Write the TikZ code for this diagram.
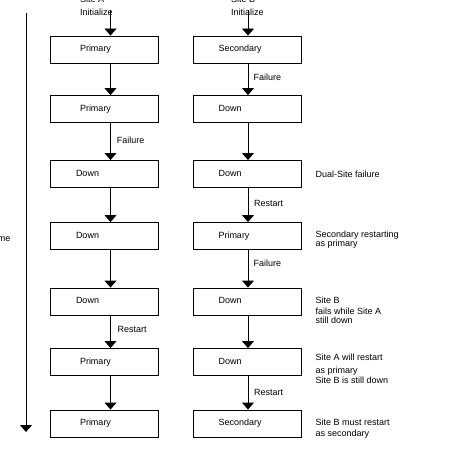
\documentclass[tikz,border=0pt]{standalone}
\usepackage{fontspec}
\setmainfont{Liberation Sans}
\usetikzlibrary{arrows.meta}
\begin{document}
\begin{tikzpicture}[x=1pt,y=-1pt,
  every node/.style={font=\fontsize{9pt}{11pt}\selectfont, inner sep=0pt},
  txt/.style={anchor=base west},
  boxbase/.style={draw, line width=0.9pt, minimum width=108pt, minimum height=27pt,
     text height=6.5pt, text depth=2pt, align=left},
  boxP/.style={boxbase, inner xsep=30pt, text width=48pt},
  boxD/.style={boxbase, inner xsep=26pt, text width=56pt},
  boxR/.style={boxbase, inner xsep=25pt, text width=58pt},
  arr/.style={line width=0.9pt, -{Triangle[width=12pt,length=7pt]}}]
\useasboundingbox (0,0) rectangle (459,476);

% column arrow axes
\coordinate (axL) at (110.5,0);
\coordinate (axR) at (248,0);

% top labels
\node[txt] (sa) at (80,3) {Site A};
\node[txt] (ia) at (80,15.5) {Initialize};
\node[txt] (sb) at (231,3) {Site B};
\node[txt] (ib) at (231,15.5) {Initialize};
\coordinate (startL) at (110.5,10);
\coordinate (startR) at (248,10);

% time axis
\coordinate (t0) at (26,13);
\coordinate (t1) at (26,432);
\draw[arr] (t0) -- (t1);
\node[anchor=base east] (time) at (10.7,241.7) {Time};

% left column
\node[boxP] (a1) at (104,49.5) {Primary};
\node[boxP] (a2) at (104,109) {Primary};
\node[boxD] (a3) at (104,174) {Down};
\node[boxD] (a4) at (104,236) {Down};
\node[boxD] (a5) at (104,301.5) {Down};
\node[boxP] (a6) at (104,362) {Primary};
\node[boxP] (a7) at (104,423.5) {Primary};

% right column
\node[boxR] (b1) at (247.5,49.5) {Secondary};
\node[boxR] (b2) at (247.5,109) {Down};
\node[boxR] (b3) at (247.5,174) {Down};
\node[boxR] (b4) at (247.5,236) {Primary};
\node[boxR] (b5) at (247.5,301.5) {Down};
\node[boxR] (b6) at (247.5,362) {Down};
\node[boxR] (b7) at (247.5,423.5) {Secondary};

% left arrows
\draw[arr] (startL) -- (a1.north -| axL);
\draw[arr] (a1.south -| axL) -- (a2.north -| axL);
\draw[arr] (a2.south -| axL) -- (a3.north -| axL);
\draw[arr] (a3.south -| axL) -- (a4.north -| axL);
\draw[arr] (a4.south -| axL) -- (a5.north -| axL);
\draw[arr] (a5.south -| axL) -- (a6.north -| axL);
\draw[arr] (a6.south -| axL) -- (a7.north -| axL);

% right arrows
\draw[arr] (startR) -- (b1.north -| axR);
\draw[arr] (b1.south -| axR) -- (b2.north -| axR);
\draw[arr] (b2.south -| axR) -- (b3.north -| axR);
\draw[arr] (b3.south -| axR) -- (b4.north -| axR);
\draw[arr] (b4.south -| axR) -- (b5.north -| axR);
\draw[arr] (b5.south -| axR) -- (b6.north -| axR);
\draw[arr] (b6.south -| axR) -- (b7.north -| axR);

% connector labels
\node[txt] (lf1) at (253.3,80.7) {Failure};
\node[txt] (lf2) at (116.7,143.3) {Failure};
\node[txt] (lr1) at (254,206.7) {Restart};
\node[txt] (lf3) at (253.3,266) {Failure};
\node[txt] (lr2) at (117.3,332.7) {Restart};
\node[txt] (lr3) at (254,395) {Restart};

% annotations
\node[txt] (n1) at (315.5,177) {Dual-Site failure};
\node[txt] (n2a) at (315.5,237) {Secondary restarting};
\node[txt] (n2b) at (315.5,246) {as primary};
\node[txt] (n3a) at (315.5,303) {Site B};
\node[txt] (n3b) at (315.5,314) {fails while Site A};
\node[txt] (n3c) at (315.5,323.5) {still down};
\node[txt] (n4a) at (315.5,360.7) {Site A will restart};
\node[txt] (n4b) at (315.5,373.5) {as primary};
\node[txt] (n4c) at (315.5,383.5) {Site B is still down};
\node[txt] (n5a) at (315.5,425) {Site B must restart};
\node[txt] (n5b) at (315.5,436.5) {as secondary};
\end{tikzpicture}
\end{document}
